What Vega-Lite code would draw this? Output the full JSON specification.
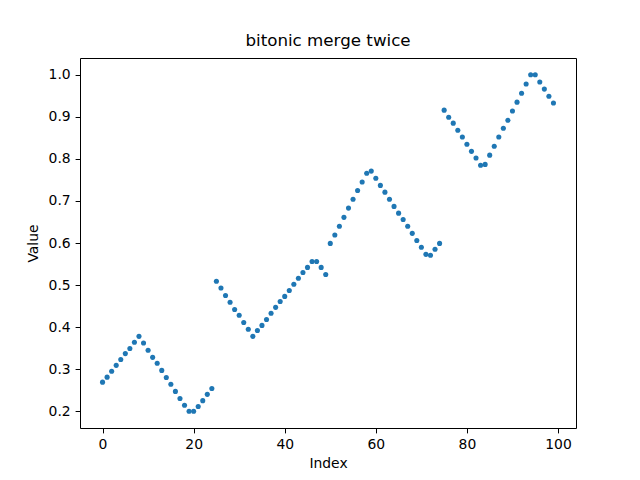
{
  "$schema": "https://vega.github.io/schema/vega-lite/v6.json",
  "width": 496,
  "height": 370,
  "autosize": {"type": "none"},
  "padding": {"left": 80, "top": 58, "right": 64, "bottom": 52},
  "background": "white",
  "title": {"text": "bitonic merge twice", "font": "DejaVu Sans", "fontSize": 16.7, "fontWeight": "normal", "color": "black", "offset": 8},
  "config": {
    "view": {"stroke": "black", "strokeWidth": 1},
    "axis": {
      "grid": false,
      "domain": false,
      "tickColor": "black",
      "tickSize": 4.9,
      "labelPadding": 4.9,
      "labelFont": "DejaVu Sans",
      "labelFontSize": 13.9,
      "labelColor": "black",
      "titleFont": "DejaVu Sans",
      "titleFontSize": 13.9,
      "titleFontWeight": "normal",
      "titleColor": "black"
    }
  },
  "data": {"values": [
    {"i": 0, "v": 0.269}, {"i": 1, "v": 0.281}, {"i": 2, "v": 0.295}, {"i": 3, "v": 0.309}, {"i": 4, "v": 0.323},
    {"i": 5, "v": 0.337}, {"i": 6, "v": 0.349}, {"i": 7, "v": 0.364}, {"i": 8, "v": 0.378}, {"i": 9, "v": 0.362},
    {"i": 10, "v": 0.345}, {"i": 11, "v": 0.328}, {"i": 12, "v": 0.314}, {"i": 13, "v": 0.297}, {"i": 14, "v": 0.280},
    {"i": 15, "v": 0.264}, {"i": 16, "v": 0.247}, {"i": 17, "v": 0.230}, {"i": 18, "v": 0.214}, {"i": 19, "v": 0.200},
    {"i": 20, "v": 0.200}, {"i": 21, "v": 0.211}, {"i": 22, "v": 0.225}, {"i": 23, "v": 0.240}, {"i": 24, "v": 0.254},
    {"i": 25, "v": 0.509}, {"i": 26, "v": 0.493}, {"i": 27, "v": 0.475}, {"i": 28, "v": 0.459}, {"i": 29, "v": 0.442},
    {"i": 30, "v": 0.428}, {"i": 31, "v": 0.411}, {"i": 32, "v": 0.395}, {"i": 33, "v": 0.378}, {"i": 34, "v": 0.392},
    {"i": 35, "v": 0.404}, {"i": 36, "v": 0.418}, {"i": 37, "v": 0.433}, {"i": 38, "v": 0.447}, {"i": 39, "v": 0.461},
    {"i": 40, "v": 0.473}, {"i": 41, "v": 0.487}, {"i": 42, "v": 0.502}, {"i": 43, "v": 0.516}, {"i": 44, "v": 0.530},
    {"i": 45, "v": 0.542}, {"i": 46, "v": 0.556}, {"i": 47, "v": 0.556}, {"i": 48, "v": 0.542}, {"i": 49, "v": 0.525},
    {"i": 50, "v": 0.599}, {"i": 51, "v": 0.619}, {"i": 52, "v": 0.640}, {"i": 53, "v": 0.661}, {"i": 54, "v": 0.683},
    {"i": 55, "v": 0.704}, {"i": 56, "v": 0.725}, {"i": 57, "v": 0.745}, {"i": 58, "v": 0.766}, {"i": 59, "v": 0.771},
    {"i": 60, "v": 0.754}, {"i": 61, "v": 0.737}, {"i": 62, "v": 0.721}, {"i": 63, "v": 0.704}, {"i": 64, "v": 0.687},
    {"i": 65, "v": 0.671}, {"i": 66, "v": 0.656}, {"i": 67, "v": 0.640}, {"i": 68, "v": 0.623}, {"i": 69, "v": 0.606},
    {"i": 70, "v": 0.590}, {"i": 71, "v": 0.573}, {"i": 72, "v": 0.571}, {"i": 73, "v": 0.585}, {"i": 74, "v": 0.599},
    {"i": 75, "v": 0.916}, {"i": 76, "v": 0.899}, {"i": 77, "v": 0.885}, {"i": 78, "v": 0.868}, {"i": 79, "v": 0.852},
    {"i": 80, "v": 0.835}, {"i": 81, "v": 0.818}, {"i": 82, "v": 0.802}, {"i": 83, "v": 0.785}, {"i": 84, "v": 0.787},
    {"i": 85, "v": 0.809}, {"i": 86, "v": 0.830}, {"i": 87, "v": 0.852}, {"i": 88, "v": 0.873}, {"i": 89, "v": 0.892},
    {"i": 90, "v": 0.914}, {"i": 91, "v": 0.935}, {"i": 92, "v": 0.956}, {"i": 93, "v": 0.978}, {"i": 94, "v": 1.0},
    {"i": 95, "v": 1.0}, {"i": 96, "v": 0.983}, {"i": 97, "v": 0.966}, {"i": 98, "v": 0.949}, {"i": 99, "v": 0.933}
  ]},
  "mark": {"type": "point", "filled": true, "shape": "circle", "size": 26, "color": "#1f77b4", "opacity": 1, "strokeWidth": 0},
  "encoding": {
    "x": {"field": "i", "type": "quantitative", "title": "Index",
      "scale": {"domain": [-4.95, 103.95], "nice": false, "zero": false},
      "axis": {"values": [0, 20, 40, 60, 80, 100], "titlePadding": 5}},
    "y": {"field": "v", "type": "quantitative", "title": "Value",
      "scale": {"domain": [0.16, 1.04], "nice": false, "zero": false},
      "axis": {"values": [0.2, 0.3, 0.4, 0.5, 0.6, 0.7, 0.8, 0.9, 1.0], "format": ".1f", "titlePadding": 8}}
  }
}
